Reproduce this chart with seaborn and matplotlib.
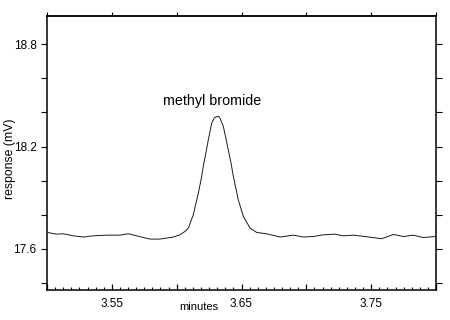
import seaborn as sns
import numpy as np
import pandas as pd
import matplotlib.pyplot as plt
from matplotlib.ticker import MultipleLocator, FixedLocator

# trace (minutes, mV)
minutes = [3.5008, 3.5075, 3.5126, 3.5203, 3.5280, 3.5357, 3.5460, 3.5563, 3.5627,
           3.5692, 3.5794, 3.5871, 3.5974, 3.6026, 3.6064, 3.6090, 3.6128, 3.6167,
           3.6188, 3.6205, 3.6225, 3.6244, 3.6270, 3.6290, 3.6309, 3.6323, 3.6334,
           3.6360, 3.6379, 3.6398, 3.6419, 3.6437, 3.6475,
           3.6514, 3.6566, 3.6617, 3.6694, 3.6797, 3.6899, 3.6977, 3.7054, 3.7131,
           3.7221, 3.7285, 3.7362, 3.7452, 3.7581, 3.7671, 3.7748, 3.7825, 3.7902,
           3.7992]
response = [17.696, 17.687, 17.689, 17.677, 17.670, 17.677, 17.681, 17.681, 17.689,
            17.677, 17.658, 17.658, 17.670, 17.683, 17.703, 17.722, 17.800, 17.927,
            18.005, 18.082, 18.161, 18.239, 18.336, 18.367, 18.375, 18.376, 18.366,
            18.317, 18.250, 18.180, 18.104, 18.025, 17.888,
            17.791, 17.722, 17.697, 17.689, 17.670, 17.681, 17.670, 17.673, 17.683,
            17.687, 17.677, 17.681, 17.673, 17.660, 17.685, 17.673, 17.681, 17.667,
            17.673]
peak_label = "methyl bromide"
peak_pos = (3.627, 18.467)
x_labels = ["3.55", "3.65", "3.75"]
x_label_pos = [3.55, 3.65, 3.75]
y_labels = ["18.8", "18.2", "17.6"]
y_label_pos = [18.8, 18.2, 17.6]

sns.set_theme(style="ticks")
plt.rcParams['font.family'] = ['Liberation Sans', 'DejaVu Sans']
plt.rcParams['text.color'] = 'black'
plt.rcParams['xtick.color'] = 'black'
plt.rcParams['ytick.color'] = 'black'

df = pd.DataFrame({"minutes": minutes, "response": response})

fig = plt.figure(figsize=(4.5, 3.2), dpi=100)
ax = fig.add_axes([0.1044, 0.0938, 0.8646, 0.8562])
sns.lineplot(data=df, x="minutes", y="response", color="#1a1a1a", linewidth=0.7, ax=ax)

ax.set_xlim(3.50, 3.80)
ax.set_ylim(17.36, 18.964)
for s in ax.spines.values():
  s.set_linewidth(1.1)
  s.set_color("black")

# bottom: labels only on every other major tick, ticks point in
ax.xaxis.set_major_locator(MultipleLocator(0.05))
ax.xaxis.set_minor_locator(MultipleLocator(0.05 / 8))
ax.tick_params(axis="x", which="both", labelbottom=False)
ax.tick_params(axis="x", which="major", direction="in", length=4, width=0.9)
ax.tick_params(axis="x", which="minor", direction="in", length=2.5, width=0.8, bottom=True)
for v, t in zip(x_label_pos, x_labels):
  ax.text(v, -0.03, t, transform=ax.get_xaxis_transform(), ha="center", va="top", fontsize=8.5)

# top ticks outward, no labels
sec = ax.secondary_xaxis("top")
sec.xaxis.set_major_locator(MultipleLocator(0.05))
sec.tick_params(direction="out", length=3, width=0.8, labeltop=False)
sec.spines["top"].set_linewidth(1.1)

# left/right ticks every 0.2, labels at 0.6 steps
ax.yaxis.set_major_locator(FixedLocator(y_label_pos))
ax.yaxis.set_minor_locator(MultipleLocator(0.2))
ax.set_yticklabels(y_labels, fontsize=8.5)
ax.tick_params(axis="y", which="both", direction="out", length=4, width=0.8, right=True)

ax.set_xlabel("")
ax.set_ylabel("")
fig.text(0.442, 0.04, "minutes", ha="center", va="center", fontsize=8)
fig.text(0.022, 0.505, "response (mV)", ha="center", va="center", rotation=90, fontsize=8.8)
ax.text(peak_pos[0], peak_pos[1], peak_label, ha="center", va="center", fontsize=10.3)

fig.savefig("out.png", dpi=100)
